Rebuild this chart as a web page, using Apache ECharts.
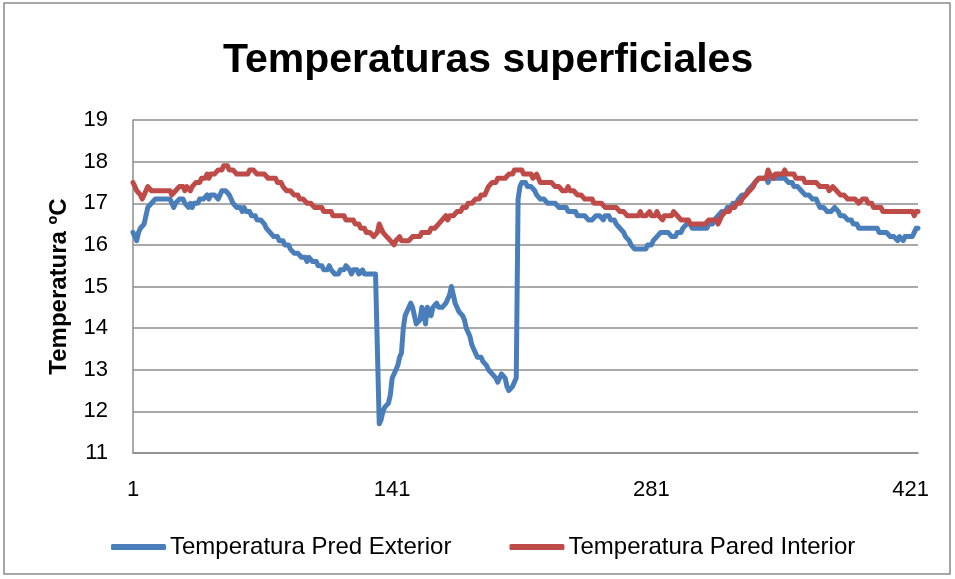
<!DOCTYPE html>
<html>
<head>
<meta charset="utf-8">
<script src="https://cdn.jsdelivr.net/npm/echarts@6/dist/echarts.min.js"></script>
<style>
  html, body { margin: 0; padding: 0; background: #fff; }
  #chart { width: 955px; height: 579px; }
</style>
</head>
<body>
<div id="chart"></div>
<script>
// Surface temperatures (ºC), one reading per step
const titleText = 'Temperaturas superficiales';
const yAxisName = 'Temperatura ºC';
const seriesNames = ['Temperatura Pred Exterior', 'Temperatura Pared Interior'];
const xTickLabels = ['1', '141', '281', '421'];

const predExterior = [
  16.3, 16.2, 16.1, 16.3, 16.4, 16.4, 16.5, 16.7, 16.9, 16.9,
  17.0, 17.0, 17.1, 17.1, 17.1, 17.1, 17.1, 17.1, 17.1, 17.1,
  17.1, 17.0, 16.9, 17.0, 17.0, 17.1, 17.1, 17.1, 17.0, 17.0,
  16.9, 17.0, 16.9, 17.0, 17.0, 17.0, 17.1, 17.1, 17.1, 17.1,
  17.2, 17.1, 17.2, 17.2, 17.2, 17.2, 17.1, 17.2, 17.3, 17.3,
  17.3, 17.3, 17.2, 17.1, 17.0, 17.0, 16.9, 16.9, 16.9, 16.8,
  16.9, 16.8, 16.8, 16.8, 16.7, 16.7, 16.7, 16.6, 16.6, 16.6,
  16.6, 16.5, 16.4, 16.4, 16.3, 16.3, 16.2, 16.2, 16.2, 16.1,
  16.1, 16.1, 16.0, 16.0, 16.0, 15.9, 15.9, 15.8, 15.8, 15.8,
  15.8, 15.7, 15.7, 15.7, 15.6, 15.7, 15.7, 15.6, 15.6, 15.6,
  15.5, 15.5, 15.5, 15.4, 15.4, 15.4, 15.5, 15.4, 15.4, 15.3,
  15.3, 15.3, 15.4, 15.4, 15.4, 15.5, 15.5, 15.4, 15.3, 15.4,
  15.4, 15.4, 15.3, 15.3, 15.4, 15.3, 15.3, 15.3, 15.3, 15.3,
  15.3, 15.3, 15.3, 11.7, 11.8, 12.0, 12.1, 12.1, 12.2, 12.4,
  12.8, 12.9, 13.0, 13.1, 13.3, 13.4, 14.0, 14.3, 14.4, 14.4,
  14.6, 14.5, 14.3, 14.1, 14.1, 14.2, 14.5, 14.4, 14.1, 14.5,
  14.4, 14.3, 14.5, 14.5, 14.6, 14.5, 14.5, 14.5, 14.5, 14.6,
  14.7, 14.8, 15.0, 14.8, 14.6, 14.5, 14.4, 14.4, 14.3, 14.2,
  14.0, 13.9, 13.8, 13.6, 13.5, 13.4, 13.3, 13.3, 13.3, 13.2,
  13.2, 13.1, 13.0, 13.0, 12.9, 12.9, 12.8, 12.7, 12.8, 12.9,
  12.9, 12.8, 12.6, 12.5, 12.5, 12.6, 12.7, 12.8, 17.1, 17.4,
  17.5, 17.5, 17.5, 17.4, 17.4, 17.4, 17.4, 17.3, 17.2, 17.2,
  17.1, 17.1, 17.1, 17.1, 17.0, 17.0, 17.0, 17.0, 17.0, 17.0,
  16.9, 16.9, 16.9, 16.9, 16.9, 16.8, 16.8, 16.8, 16.8, 16.8,
  16.7, 16.7, 16.7, 16.7, 16.7, 16.7, 16.6, 16.6, 16.6, 16.6,
  16.7, 16.7, 16.7, 16.7, 16.6, 16.7, 16.7, 16.7, 16.6, 16.6,
  16.6, 16.5, 16.5, 16.4, 16.4, 16.3, 16.2, 16.2, 16.1, 16.0,
  16.0, 15.9, 15.9, 15.9, 15.9, 15.9, 15.9, 15.9, 16.0, 16.0,
  16.0, 16.1, 16.1, 16.2, 16.2, 16.3, 16.3, 16.3, 16.3, 16.3,
  16.3, 16.2, 16.2, 16.2, 16.3, 16.3, 16.3, 16.4, 16.4, 16.5,
  16.5, 16.5, 16.4, 16.4, 16.4, 16.4, 16.4, 16.4, 16.4, 16.4,
  16.4, 16.5, 16.5, 16.5, 16.6, 16.6, 16.7, 16.7, 16.8, 16.8,
  16.8, 16.9, 16.9, 16.9, 17.0, 17.0, 17.0, 17.1, 17.1, 17.2,
  17.2, 17.2, 17.3, 17.3, 17.4, 17.4, 17.5, 17.5, 17.6, 17.6,
  17.6, 17.6, 17.6, 17.5, 17.6, 17.6, 17.6, 17.6, 17.6, 17.6,
  17.6, 17.6, 17.6, 17.6, 17.5, 17.5, 17.5, 17.4, 17.4, 17.4,
  17.4, 17.3, 17.3, 17.2, 17.2, 17.2, 17.2, 17.1, 17.1, 17.1,
  17.0, 16.9, 16.9, 16.9, 16.9, 16.8, 16.8, 16.8, 16.8, 16.9,
  16.9, 16.8, 16.7, 16.7, 16.7, 16.7, 16.6, 16.6, 16.6, 16.5,
  16.5, 16.5, 16.4, 16.4, 16.4, 16.4, 16.4, 16.4, 16.4, 16.4,
  16.4, 16.4, 16.4, 16.3, 16.3, 16.3, 16.3, 16.3, 16.3, 16.2,
  16.2, 16.2, 16.2, 16.1, 16.2, 16.2, 16.1, 16.2, 16.2, 16.2,
  16.2, 16.2, 16.3, 16.4, 16.4
];

const paredInterior = [
  17.5, 17.4, 17.3, 17.3, 17.2, 17.1, 17.2, 17.3, 17.4, 17.4,
  17.3, 17.3, 17.3, 17.3, 17.3, 17.3, 17.3, 17.3, 17.3, 17.3,
  17.3, 17.2, 17.2, 17.3, 17.3, 17.4, 17.4, 17.4, 17.3, 17.4,
  17.4, 17.3, 17.4, 17.4, 17.5, 17.5, 17.5, 17.6, 17.6, 17.6,
  17.7, 17.6, 17.7, 17.7, 17.7, 17.7, 17.8, 17.8, 17.8, 17.9,
  17.9, 17.9, 17.8, 17.8, 17.8, 17.8, 17.7, 17.7, 17.7, 17.7,
  17.7, 17.7, 17.7, 17.8, 17.8, 17.8, 17.8, 17.7, 17.7, 17.7,
  17.7, 17.7, 17.7, 17.6, 17.6, 17.6, 17.6, 17.6, 17.5, 17.5,
  17.5, 17.4, 17.4, 17.3, 17.3, 17.3, 17.3, 17.2, 17.2, 17.2,
  17.1, 17.1, 17.1, 17.1, 17.0, 17.0, 17.0, 17.0, 16.9, 16.9,
  16.9, 16.9, 16.9, 16.8, 16.8, 16.8, 16.8, 16.8, 16.7, 16.7,
  16.7, 16.7, 16.7, 16.7, 16.7, 16.6, 16.6, 16.6, 16.6, 16.6,
  16.5, 16.5, 16.5, 16.4, 16.4, 16.4, 16.3, 16.3, 16.3, 16.3,
  16.2, 16.2, 16.3, 16.5, 16.4, 16.3, 16.3, 16.2, 16.2, 16.1,
  16.1, 16.0, 16.1, 16.1, 16.2, 16.1, 16.1, 16.1, 16.1, 16.1,
  16.1, 16.2, 16.2, 16.2, 16.2, 16.2, 16.3, 16.3, 16.3, 16.3,
  16.3, 16.4, 16.4, 16.4, 16.4, 16.5, 16.5, 16.6, 16.6, 16.7,
  16.6, 16.7, 16.7, 16.7, 16.7, 16.8, 16.8, 16.8, 16.9, 16.9,
  16.9, 17.0, 17.0, 17.0, 17.0, 17.1, 17.1, 17.1, 17.2, 17.2,
  17.2, 17.3, 17.4, 17.4, 17.5, 17.5, 17.5, 17.6, 17.6, 17.6,
  17.6, 17.6, 17.6, 17.7, 17.7, 17.7, 17.8, 17.8, 17.8, 17.8,
  17.8, 17.7, 17.7, 17.7, 17.7, 17.7, 17.6, 17.6, 17.7, 17.6,
  17.5, 17.5, 17.5, 17.5, 17.5, 17.5, 17.5, 17.5, 17.4, 17.4,
  17.4, 17.4, 17.3, 17.3, 17.3, 17.4, 17.3, 17.3, 17.3, 17.3,
  17.2, 17.2, 17.2, 17.2, 17.1, 17.1, 17.1, 17.1, 17.1, 17.0,
  17.0, 17.0, 17.0, 17.0, 17.0, 16.9, 16.9, 16.9, 16.9, 16.9,
  16.9, 16.9, 16.9, 16.8, 16.8, 16.8, 16.8, 16.7, 16.7, 16.7,
  16.7, 16.7, 16.7, 16.7, 16.8, 16.7, 16.7, 16.7, 16.7, 16.8,
  16.7, 16.7, 16.7, 16.8, 16.7, 16.7, 16.6, 16.7, 16.7, 16.7,
  16.7, 16.7, 16.8, 16.8, 16.7, 16.7, 16.6, 16.6, 16.6, 16.6,
  16.6, 16.5, 16.5, 16.5, 16.5, 16.5, 16.5, 16.5, 16.5, 16.5,
  16.5, 16.6, 16.6, 16.6, 16.6, 16.6, 16.5, 16.6, 16.7, 16.7,
  16.8, 16.8, 16.8, 16.9, 16.9, 16.9, 17.0, 17.0, 17.0, 17.1,
  17.1, 17.2, 17.2, 17.3, 17.3, 17.4, 17.5, 17.5, 17.6, 17.6,
  17.6, 17.6, 17.6, 17.8, 17.7, 17.7, 17.6, 17.7, 17.7, 17.7,
  17.7, 17.7, 17.8, 17.7, 17.7, 17.7, 17.7, 17.7, 17.6, 17.6,
  17.6, 17.6, 17.6, 17.5, 17.5, 17.5, 17.5, 17.5, 17.5, 17.5,
  17.5, 17.4, 17.4, 17.4, 17.4, 17.4, 17.3, 17.3, 17.4, 17.4,
  17.3, 17.3, 17.2, 17.2, 17.2, 17.2, 17.1, 17.1, 17.1, 17.1,
  17.1, 17.1, 17.0, 17.0, 17.1, 17.1, 17.1, 17.0, 17.0, 17.0,
  16.9, 16.9, 16.9, 16.9, 16.9, 16.8, 16.8, 16.8, 16.8, 16.8,
  16.8, 16.8, 16.8, 16.8, 16.8, 16.8, 16.8, 16.8, 16.8, 16.8,
  16.8, 16.8, 16.7, 16.8, 16.8
];

// Category axis: reading number, 1..N
const categories = predExterior.map((_, i) => String(i + 1));

const FONT = "'Liberation Sans', Arial, sans-serif";
const GRID_GRAY = '#8c8c8c';

const chart = echarts.init(document.getElementById('chart'), null, { renderer: 'canvas' });

chart.setOption({
  backgroundColor: '#ffffff',
  animation: false,
  title: {
    text: titleText,
    left: 218,
    top: 35,
    textStyle: { fontFamily: FONT, fontWeight: 'bold', fontSize: 41, color: '#000' }
  },
  graphic: [{
    type: 'rect',
    shape: { x: 4, y: 3, width: 946, height: 571 },
    style: { fill: 'none', stroke: '#8a8a8a', lineWidth: 1.5 },
    silent: true
  }],
  legend: {
    data: seriesNames,
    left: 106,
    top: 530,
    itemWidth: 55,
    itemHeight: 6,
    itemGap: 58,
    icon: 'roundRect',
    textStyle: { fontFamily: FONT, fontSize: 24, color: '#000', padding: [0, 0, 0, -1] }
  },
  grid: { left: 133, right: 37, top: 120, bottom: 126, containLabel: false },
  xAxis: {
    type: 'category',
    data: categories,
    boundaryGap: false,
    axisLine: { show: true, lineStyle: { color: GRID_GRAY, width: 1.5 } },
    axisTick: { show: false },
    axisLabel: {
      interval: (idx, val) => xTickLabels.includes(val),
      margin: 26,
      fontFamily: FONT,
      fontSize: 22,
      color: '#000'
    },
    splitLine: { show: false }
  },
  yAxis: {
    type: 'value',
    min: 11,
    max: 19,
    interval: 1,
    name: yAxisName,
    nameLocation: 'middle',
    nameGap: 62,
    nameRotate: 90,
    nameTextStyle: { fontFamily: FONT, fontWeight: 'bold', fontSize: 24, color: '#000' },
    axisLine: { show: true, lineStyle: { color: GRID_GRAY, width: 1.5 } },
    axisTick: { show: false },
    axisLabel: { margin: 25, fontFamily: FONT, fontSize: 22, color: '#000' },
    splitLine: { show: true, lineStyle: { color: GRID_GRAY, width: 1.5 } }
  },
  series: [
    {
      name: seriesNames[0],
      type: 'line',
      data: predExterior,
      showSymbol: false,
      symbol: 'none',
      lineStyle: { color: '#4a7ebb', width: 5, join: 'round', cap: 'round' },
      itemStyle: { color: '#4a7ebb' }
    },
    {
      name: seriesNames[1],
      type: 'line',
      data: paredInterior,
      showSymbol: false,
      symbol: 'none',
      lineStyle: { color: '#be4b48', width: 5, join: 'round', cap: 'round' },
      itemStyle: { color: '#be4b48' }
    }
  ]
});
</script>
</body>
</html>
